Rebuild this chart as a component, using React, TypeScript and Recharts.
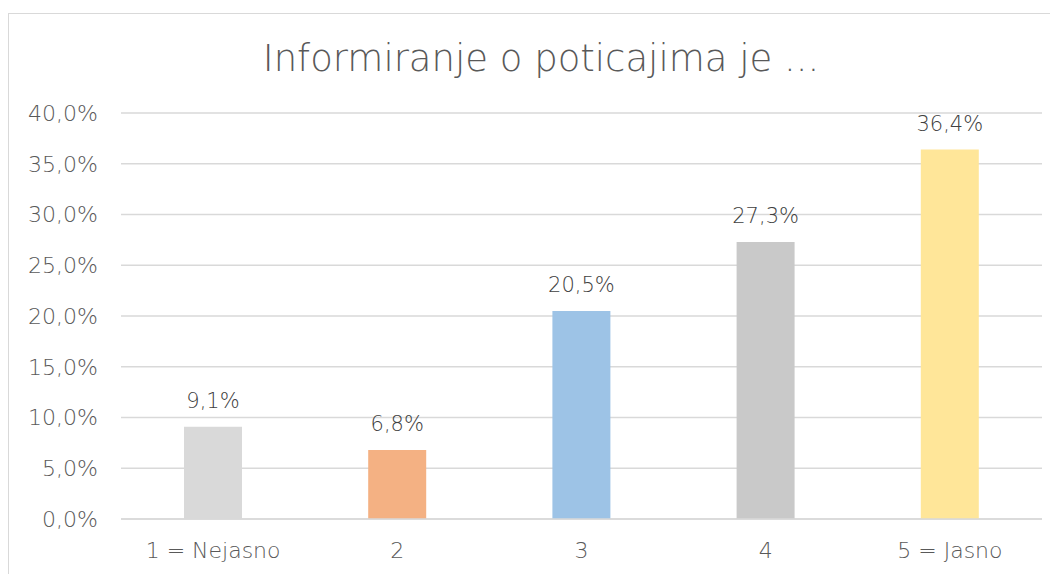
import React from "react";
import { BarChart, Bar, XAxis, YAxis, CartesianGrid, Cell, LabelList } from "recharts";

const categories = ["1 = Nejasno", "2", "3", "4", "5 = Jasno"];
const values = [9.1, 6.8, 20.5, 27.3, 36.4];
const colors = ["#D9D9D9", "#F4B183", "#9DC3E6", "#C9C9C9", "#FFE699"];
const yTicks = [0, 5, 10, 15, 20, 25, 30, 35, 40];
const title = "Informiranje o poticajima je ...";

const data = categories.map((c, i) => ({ name: c, value: values[i] }));
const fmt = (v: number) => v.toFixed(1).replace(".", ",") + "%";
const FONT = "'DejaVu Sans', sans-serif";

export default function App() {
  return (
    <div
      style={{
        position: "relative",
        marginTop: 5,
        width: 1060,
        height: 600,
        border: "1px solid #D9D9D9",
        background: "#fff",
        fontFamily: FONT,
      }}
    >
      <div
        style={{
          position: "absolute",
          left: 0,
          width: 1064,
          top: 23,
          textAlign: "center",
          fontSize: 37,
          lineHeight: "43px",
          color: "#595959",
          fontFamily: FONT,
          fontWeight: 300,
          whiteSpace: "nowrap",
        }}
      >
        {title}
      </div>
      <BarChart
        width={1060}
        height={580}
        data={data}
        margin={{ top: 99, right: 27, bottom: 25, left: 0 }}
        barCategoryGap="34%"
      >
        <CartesianGrid vertical={false} stroke="#D9D9D9" strokeWidth={1.3} />
        <XAxis
          dataKey="name"
          height={50}
          tickLine={false}
          axisLine={{ stroke: "#D9D9D9", strokeWidth: 1.3 }}
          tickSize={0}
          tickMargin={23}
          tick={{ fill: "#595959", fontSize: 22, fontFamily: FONT, fontWeight: 300 }}
          interval={0}
        />
        <YAxis
          width={112}
          domain={[0, 40]}
          ticks={yTicks}
          tickFormatter={fmt}
          tickLine={false}
          axisLine={false}
          tickSize={0}
          tickMargin={23}
          tick={{ fill: "#595959", fontSize: 22, fontFamily: FONT, fontWeight: 300 }}
        />
        <Bar dataKey="value" barSize={58} isAnimationActive={false}>
          {data.map((d, i) => (
            <Cell key={d.name} fill={colors[i]} />
          ))}
          <LabelList
            dataKey="value"
            position="top"
            offset={19}
            formatter={(v: number) => fmt(v)}
            style={{ fill: "#404040", fontSize: 21, fontFamily: FONT, fontWeight: 300 }}
          />
        </Bar>
      </BarChart>
    </div>
  );
}
